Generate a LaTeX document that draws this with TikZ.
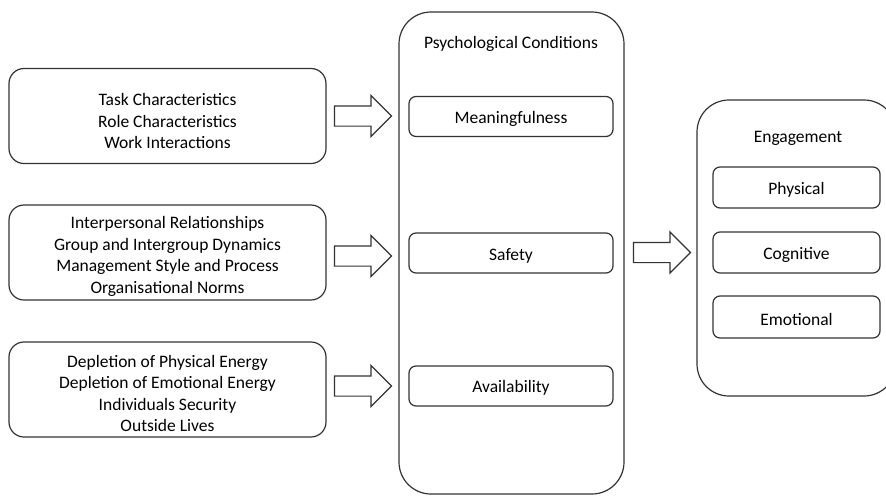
\documentclass[tikz,border=0pt]{standalone}
\usepackage{fontspec}
\setmainfont{Carlito}
\usetikzlibrary{shapes.arrows}
\begin{document}
\begin{tikzpicture}[x=1pt,y=-1pt,
  every node/.style={font=\fontsize{17.5}{21.5}\selectfont, text=black},
  frame/.style={draw=black!80, line width=1.2pt, inner sep=0pt},
  srcbox/.style={frame, rounded corners=15pt, minimum width=317pt, minimum height=95pt},
  bigbox/.style={frame, rounded corners=32pt},
  itembox/.style={frame, rounded corners=7pt, minimum height=40pt},
  txt/.style={align=center, inner sep=0pt},
  blockarrow/.style={single arrow, draw=black!80, line width=1.2pt, fill=white,
    minimum height=57pt, inner sep=9.5pt, single arrow head extend=10.5pt,
    single arrow tip angle=90, text width=0pt, anchor=tip}
]
\clip (0,0) rectangle (886,496);
\fill[white] (0,0) rectangle (886,496);

% antecedent groups on the left
\node[srcbox] (task) at (167.5,116) {};
\node[txt] (taskt) at ([yshift=-5pt]task.center)
  {Task Characteristics\\Role Characteristics\\Work Interactions};
\node[srcbox] (rel) at (167.5,252.5) {};
\node[txt] (relt) at ([yshift=-4pt]rel.center)
  {Interpersonal Relationships\\Group and Intergroup Dynamics\\Management Style and Process\\Organisational Norms};
\node[srcbox] (dep) at (167.5,389.5) {};
\node[txt] (dept) at ([yshift=-4pt]dep.center)
  {Depletion of Physical Energy\\Depletion of Emotional Energy\\Individuals Security\\Outside Lives};

% psychological conditions column
\node[bigbox, minimum width=225pt, minimum height=482pt] (psy) at (511.5,253) {};
\node[txt] (psyt) at (511,44) {Psychological Conditions};
\node[itembox, minimum width=204pt] (mean) at (511,116.5) {};
\node[txt] (meant) at ([yshift=-2pt]mean.center) {Meaningfulness};
\node[itembox, minimum width=204pt] (safe) at (511,253) {};
\node[txt] (safet) at ([yshift=-3pt]safe.center) {Safety};
\node[itembox, minimum width=204pt] (avail) at (511,386) {};
\node[txt] (availt) at ([yshift=-2pt]avail.center) {Availability};

% engagement column
\node[bigbox, minimum width=199pt, minimum height=296pt] (eng) at (796.5,248) {};
\node[txt] (engt) at (798,138) {Engagement};
\node[itembox, minimum width=167pt, minimum height=41pt] (phys) at (796.5,187.5) {};
\node[txt] (physt) at ([yshift=-2pt]phys.center) {Physical};
\node[itembox, minimum width=167pt, minimum height=41pt] (cogn) at (796.5,252.5) {};
\node[txt] (cognt) at ([yshift=-2pt]cogn.center) {Cognitive};
\node[itembox, minimum width=167pt, minimum height=42pt] (emot) at (796.5,317) {};
\node[txt] (emott) at ([yshift=-2pt]emot.center) {Emotional};

% block arrows pointing into the columns
\node[blockarrow] (a1) at ([xshift=-6pt]psy.west |- task.center) {};
\node[blockarrow] (a2) at ([xshift=-6pt]psy.west |- safet.center) {};
\node[blockarrow] (a3) at ([xshift=-6pt]psy.west |- avail.center) {};
\node[blockarrow] (a4) at ([xshift=-5pt]eng.west |- cogn.center) {};
\end{tikzpicture}
\end{document}
